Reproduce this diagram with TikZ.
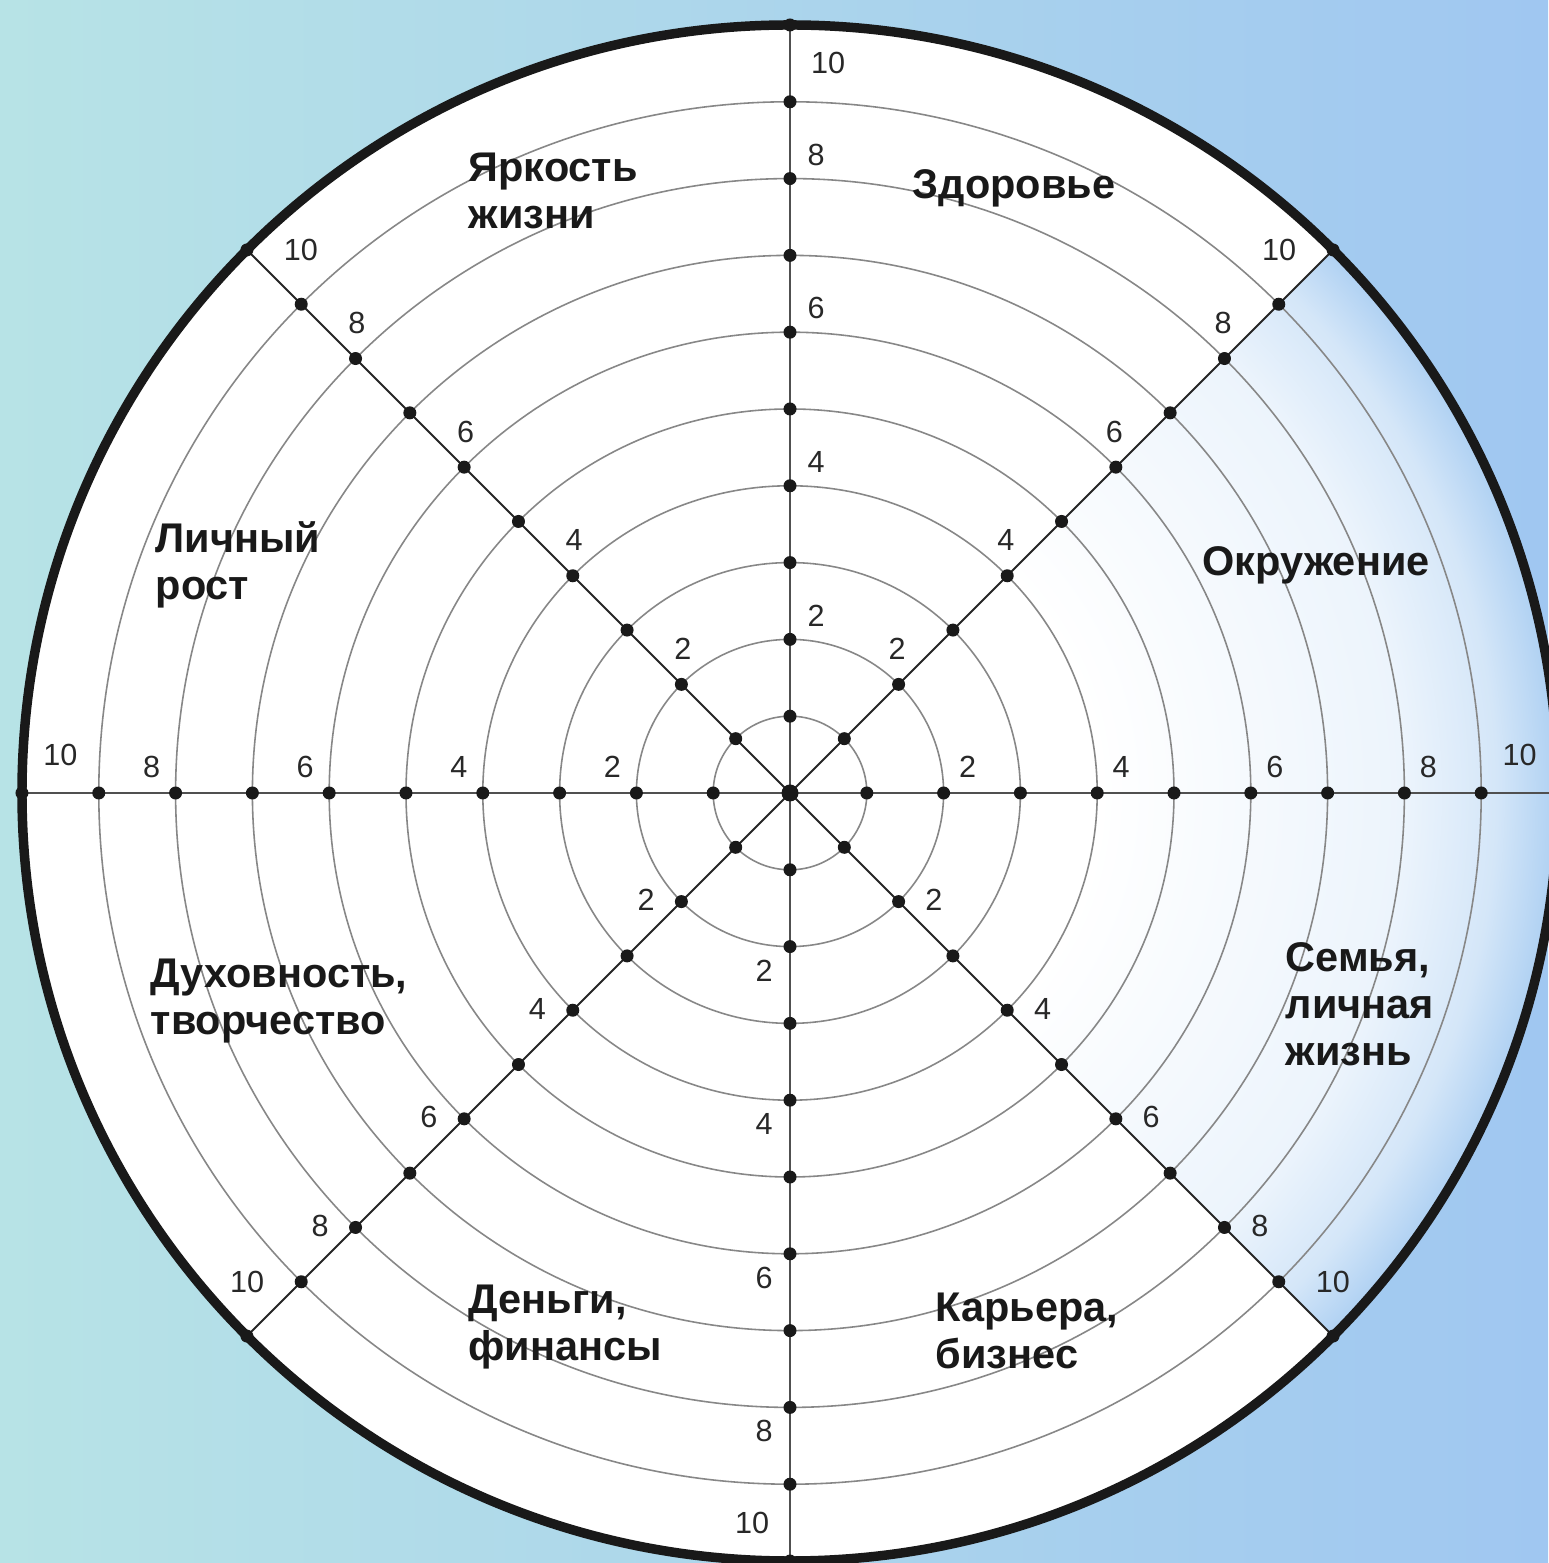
\documentclass[tikz,border=0pt]{standalone}
\usepackage{fontspec}
\setmainfont{Liberation Sans}
\usetikzlibrary{calc}

\definecolor{bgleft}{RGB}{183,227,230}
\definecolor{bgright}{RGB}{160,199,241}
\definecolor{cloudblue}{RGB}{160,200,240}
\definecolor{ringgray}{RGB}{135,135,135}
\definecolor{axisgray}{RGB}{80,80,80}
\definecolor{numgray}{RGB}{40,40,40}
\pgfdeclareradialshading{rimglow}{\pgfpoint{0bp}{0bp}}{%
  color(0bp)=(white); color(10bp)=(white); color(15bp)=(cloudblue!10);
  color(20bp)=(cloudblue!20); color(23bp)=(cloudblue!45); color(25bp)=(cloudblue!85);
  color(50bp)=(cloudblue!85)}

\begin{document}
\begin{tikzpicture}[
    ring/.style={draw=ringgray, line width=0.45pt},
    axisline/.style={draw=axisgray, line width=0.75pt},
    diagline/.style={draw=black!85, line width=0.55pt},
    rim/.style={draw=black!90, line width=2.7pt},
    dot/.style={circle, fill=black!90, inner sep=0pt, minimum size=1.3mm},
    num/.style={font=\fontsize{8.7}{10}\selectfont, text=numgray, inner sep=0pt},
    area/.style={font=\fontsize{11.8}{13.4}\selectfont\bfseries, text=black!90, align=left, anchor=west, inner sep=0pt}
]
\def\unit{0.768}

% Frame and background
\useasboundingbox (-7.90,-7.70) rectangle (7.58,7.93);
\shade[left color=bgleft, right color=bgright] (-7.90,-7.70) rectangle (7.58,7.93);

% Wheel
\coordinate (o) at (0,0);
\foreach \a in {0,45,...,315}
  \coordinate (end\a) at (\a:10*\unit);
\fill[white] (o) circle (10*\unit);

% Sky tint on the right side
\begin{scope}
  \clip (o) -- (end315) arc[start angle=-45, end angle=45, radius=10*\unit] -- cycle;
  \shade[shading=rimglow] (o) circle (10*\unit);
\end{scope}

% Rings
\foreach \r in {1,...,9}
  \draw[ring] (o) circle (\r*\unit);

% Axes
\draw[axisline] (end0) -- (end180);
\draw[axisline] (end90) -- (end270);
\draw[diagline] (end45) -- (end225);
\draw[diagline] (end135) -- (end315);

% Dots
\foreach \a in {0,45,...,315}
  \foreach \r in {1,...,10}
    \node[dot] (d\a-\r) at (\a:\r*\unit) {};
\node[dot, minimum size=1.7mm] (d0) at (o) {};

% Rim
\draw[rim] (o) circle (10*\unit);

% Scale numbers
\foreach \a/\s in {0/90, 45/90, 90/270, 135/270, 180/270, 225/270, 270/270, 315/90} {
  \foreach \r in {2,4,6,8}
    \node[num] (n\a-\r) at ($(\a:\r*\unit+0.24)+(\a+\s:0.26)$) {\r};
  \node[num] (n\a-10) at ($(\a:9.5*\unit)+(\a+\s:0.38)$) {10};
}

% Life areas
\node[area] (bright) at (-3.22,6.02) {Яркость\\жизни};
\node[area] (health) at (1.22,6.05) {Здоровье};
\node[area] (growth) at (-6.35,2.28) {Личный\\рост};
\node[area] (people) at (4.12,2.28) {Окружение};
\node[area] (spirit) at (-6.40,-2.08) {Духовность,\\творчество};
\node[area] (family) at (4.95,-2.11) {Семья,\\личная\\жизнь};
\node[area] (money) at (-3.22,-5.34) {Деньги,\\финансы};
\node[area] (career) at (1.45,-5.38) {Карьера,\\бизнес};

\end{tikzpicture}
\end{document}
